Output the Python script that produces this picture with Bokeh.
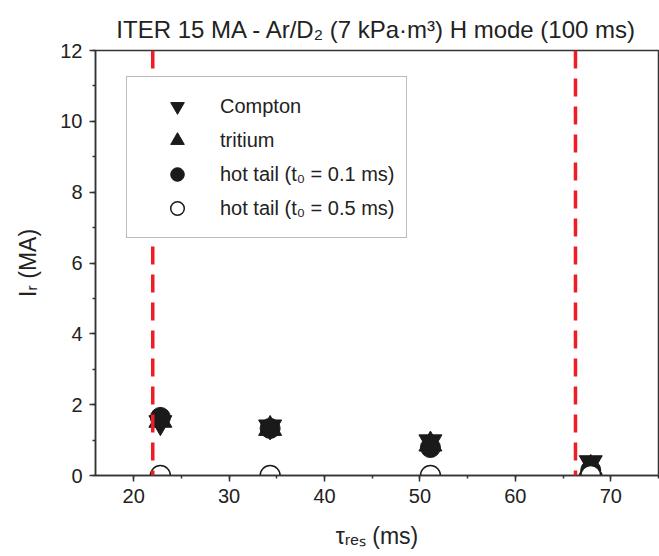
import math
from bokeh.plotting import figure
from bokeh.models import Span, Legend, LegendItem, SingleIntervalTicker, Range1d
from bokeh.embed import file_html
from bokeh.resources import INLINE

# data
tau_res = [22.8, 34.3, 51.1, 67.9]
compton = [1.5, 1.38, 0.96, 0.37]
tritium = [1.55, 1.32, 0.88, 0.22]
hot_tail_01 = [1.64, 1.33, 0.79, 0.15]
hot_tail_05 = [0.0, 0.0, 0.0, 0.0]
limit_tau = [22.0, 66.3]

labels = ["Compton", "tritium", "hot tail (t\u2080 = 0.1 ms)", "hot tail (t\u2080 = 0.5 ms)"]

FONT = "Liberation Sans"
INK = "#1a1a1a"
TXT = "#222222"

p = figure(width=659, height=556, output_backend="svg", toolbar_location=None,
           x_range=Range1d(16, 75), y_range=Range1d(0, 12),
           min_border_left=95, min_border_right=1, min_border_top=50, min_border_bottom=81,
           title="ITER 15 MA - Ar/D\u2082 (7 kPa\u00b7m\u00b3) H mode (100 ms)")

p.title.text_font = FONT
p.title.text_font_size = "24px"
p.title.text_font_style = "normal"
p.title.text_color = TXT
p.title.align = "center"
p.title.standoff = 15

p.grid.visible = False
p.outline_line_color = "#333333"
p.outline_line_width = 1.5
p.background_fill_color = "white"
p.border_fill_color = "white"

p.xaxis.ticker = SingleIntervalTicker(interval=10, num_minor_ticks=2)
p.yaxis.ticker = SingleIntervalTicker(interval=2, num_minor_ticks=2)
for ax in (p.xaxis[0], p.yaxis[0]):
    ax.axis_line_color = "#333333"
    ax.axis_line_width = 1.5
    ax.major_tick_line_color = "#333333"
    ax.minor_tick_line_color = "#333333"
    ax.major_tick_line_width = 1.5
    ax.minor_tick_line_width = 1.5
    ax.major_tick_in = 0
    ax.major_tick_out = 6
    ax.minor_tick_in = 0
    ax.minor_tick_out = 3
    ax.major_label_text_font = FONT
    ax.major_label_text_font_size = "20px"
    ax.major_label_text_color = TXT
    ax.axis_label_text_font = FONT
    ax.axis_label_text_font_size = "23px"
    ax.axis_label_text_font_style = "normal"
    ax.axis_label_text_color = TXT
    ax.major_label_standoff = 7

p.xaxis.axis_label = "\u03c4\u1d63\u2091\u209b (ms)"
p.yaxis.axis_label = "I\u1d63 (MA)"
p.xaxis.axis_label_standoff = 17
p.yaxis.axis_label_standoff = 16

for xv in limit_tau:
    p.add_layout(Span(location=xv, dimension="height", line_color="#ee1c25",
                      line_width=3.5, line_dash="18 10"))

r1 = p.scatter(tau_res, compton, marker="inverted_triangle", size=23,
               fill_color=INK, line_color=INK)
r2 = p.scatter(tau_res, tritium, marker="triangle", size=23,
               fill_color=INK, line_color=INK)
r3 = p.scatter(tau_res, hot_tail_01, marker="circle", size=20,
               fill_color=INK, line_color=INK)
# open circles sit on the axis and are clipped there: draw the visible upper half
p.wedge(x=tau_res, y=hot_tail_05, radius=10, radius_units="screen",
        start_angle=0, end_angle=math.pi, direction="anticlock",
        fill_color="white", line_color=INK, line_width=1.5)
# hidden open-circle renderer; it only supplies the legend glyph
r4 = p.scatter(tau_res, hot_tail_05, marker="circle", size=20,
               fill_color="white", line_color=INK, line_width=1.5)
r4.visible = False

legend = Legend(items=[LegendItem(label=l, renderers=[r]) for l, r in zip(labels, [r1, r2, r3, r4])],
                location=(31, 237), orientation="vertical",
                glyph_width=76, glyph_height=34, label_height=34,
                spacing=0, padding=12, label_standoff=5,
                label_text_font=FONT, label_text_font_size="20px", label_text_color=TXT,
                border_line_color="#777777", border_line_width=1.5,
                background_fill_color="white", background_fill_alpha=1.0)
p.add_layout(legend)

open("out.html", "w").write(file_html(p, INLINE))
